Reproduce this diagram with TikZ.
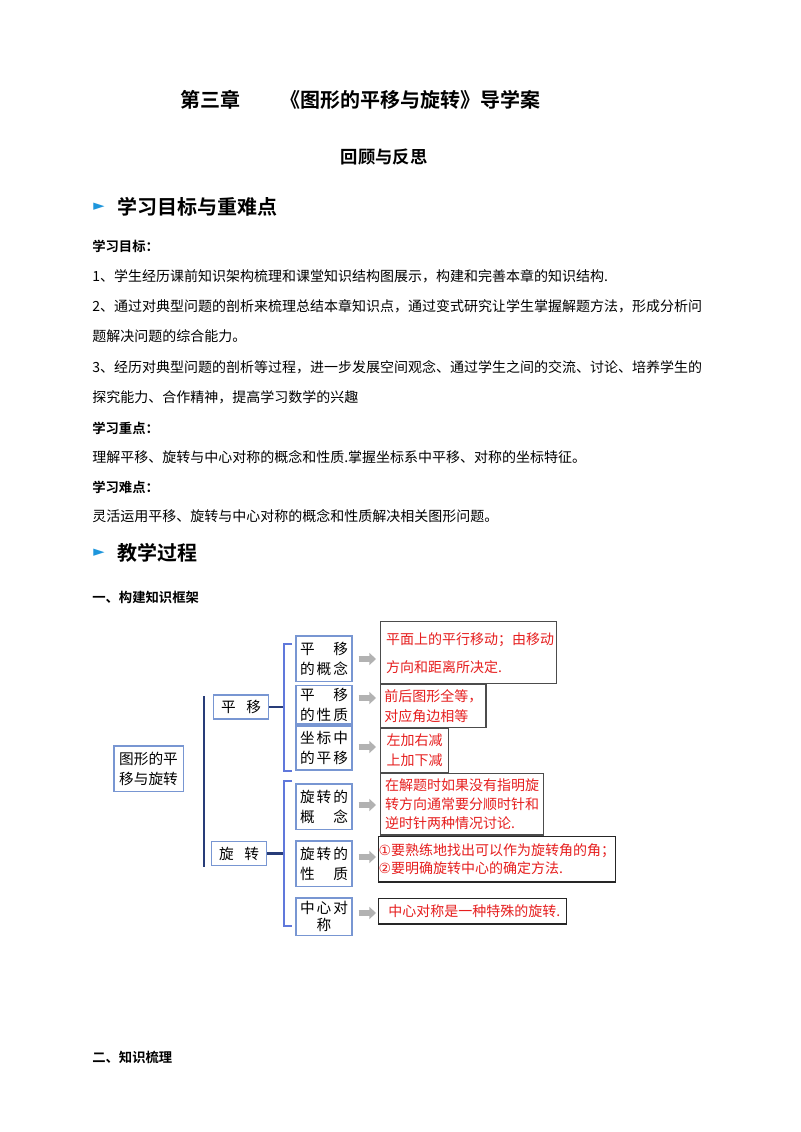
\documentclass[tikz,border=0pt]{standalone}
\usepackage{fontspec}
\setmainfont{Noto Sans CJK SC}
\newfontfamily\cjkb{Noto Sans CJK SC Bold}
\newfontfamily\djv{DejaVu Sans}
\usetikzlibrary{arrows.meta}
\definecolor{bblue}{RGB}{40,60,120}
\definecolor{boxblue}{RGB}{120,150,210}
\definecolor{tri}{RGB}{30,150,220}
\definecolor{rtext}{RGB}{230,30,30}
\tikzset{
 body/.style={anchor=west,inner sep=0pt,font=\fontsize{10.5}{12}\selectfont},
 bhead/.style={anchor=west,inner sep=0pt,font=\cjkb\fontsize{10}{12}\selectfont},
 sect/.style={anchor=west,inner sep=0pt,font=\cjkb\fontsize{15}{18}\selectfont},
 bbox/.style={draw=boxblue,line width=1pt,inner sep=0pt,font=\fontsize{11}{15}\selectfont},
 rbox/.style={draw=black!70,line width=1pt,inner sep=0pt,anchor=north west,align=left,text=rtext,font=\fontsize{10.5}{15}\selectfont},
 garrow/.style={-{Triangle[length=5pt,width=9pt]},line width=4pt,draw=black!30},
 brk/.style={draw=bblue,line width=1.6pt},
 brk2/.style={draw=boxblue!80!blue,line width=2.2pt}
}
\newcommand{\spbox}[2]{\makebox[#1]{#2}}
\begin{document}
\begin{tikzpicture}[x=0.75pt,y=-0.75pt]
\useasboundingbox[fill=white] (0,0) rectangle (800,1132);
\node[inner sep=0pt,font=\cjkb\fontsize{15}{18}\selectfont] (t1) at (360,100) {第三章\hspace{2em}《图形的平移与旋转》导学案};
\node[inner sep=0pt,font=\cjkb\fontsize{13}{16}\selectfont] (t2) at (384,157) {回顾与反思};
\node[text=tri,inner sep=0pt,font=\djv\fontsize{11}{11}\selectfont] (a1) at (99,207) {\char"25BA};
\node[sect] (s1) at (117,207) {学习目标与重难点};
\node[bhead] (h1) at (92,246) {学习目标：};
\node[body] (l1) at (92,276) {1、学生经历课前知识架构梳理和课堂知识结构图展示，构建和完善本章的知识结构.};
\node[body] (l2) at (92,306) {2、通过对典型问题的剖析来梳理总结本章知识点，通过变式研究让学生掌握解题方法，形成分析问};
\node[body] (l3) at (92,336) {题解决问题的综合能力。};
\node[body] (l4) at (92,367) {3、经历对典型问题的剖析等过程，进一步发展空间观念、通过学生之间的交流、讨论、培养学生的};
\node[body] (l5) at (92,397) {探究能力、合作精神，提高学习数学的兴趣};
\node[bhead] (h2) at (92,428) {学习重点：};
\node[body] (l6) at (92,457) {理解平移、旋转与中心对称的概念和性质.掌握坐标系中平移、对称的坐标特征。};
\node[bhead] (h3) at (92,487) {学习难点：};
\node[body] (l7) at (92,516) {灵活运用平移、旋转与中心对称的概念和性质解决相关图形问题。};
\node[text=tri,inner sep=0pt,font=\djv\fontsize{11}{11}\selectfont] (a2) at (99,553) {\char"25BA};
\node[sect] (s2) at (117,553) {教学过程};
\node[bhead] (h4) at (92,597) {一、构建知识框架};
\node[bhead] (h5) at (92,1057) {二、知识梳理};

% diagram
\node[bbox,minimum width=52pt,minimum height=34pt,align=center] (root) at (148.5,768.5) {图形的平\\移与旋转};
\draw[brk] (204,696) -- (204,867);
\node[bbox,minimum width=41pt,minimum height=18pt] (py) at (241,707) {\spbox{30pt}{平\hfill 移}};
\node[bbox,minimum width=41pt,minimum height=18pt] (xz) at (239,853.5) {\spbox{30pt}{旋\hfill 转}};
\draw[brk] (py.east) -- (283,707);
\draw[brk] (xz.east) -- (283,853.5);
\draw[brk2] (292,644) -- (284,644) -- (284,771) -- (292,771);
\draw[brk2] (292,781) -- (284,781) -- (284,926) -- (292,926);
\foreach \n/\y/\h/\a/\b in {
 c1/658.5/34/{平\hfill 移}/{的\hfill 概\hfill 念},
 c2/704.5/29/{平\hfill 移}/{的\hfill 性\hfill 质},
 c3/748/33/{坐\hfill 标\hfill 中}/{的\hfill 平\hfill 移},
 c4/806.5/34/{旋\hfill 转\hfill 的}/{概\hfill 念},
 c5/863.5/34/{旋\hfill 转\hfill 的}/{性\hfill 质}}
 {\node[bbox,minimum width=42pt,minimum height=\h pt,align=left] (\n) at (324,\y) {\spbox{36pt}{\a}\\\spbox{36pt}{\b}};}
\node[bbox,minimum width=42pt,minimum height=28pt,align=center] (c6) at (324,916.5) {\spbox{36pt}{中\hfill 心\hfill 对}\\[-2pt]称};
\foreach \n/\y in {c1/659,c2/698,c3/747,c4/805,c5/857,c6/913}
 {\coordinate (g\n) at (376,\y); \draw[garrow] (\n.east |- g\n) ++(6,0) -- (g\n);}
\node[rbox,minimum width=132pt,minimum height=46.5pt] (r1) at (380,621) {\ 平面上的平行移动；由移动\\[6pt]\ 方向和距离所决定.};
\node[rbox,minimum width=79pt,minimum height=32pt] (r2) at (380,684) {前后图形全等，\\对应角边相等};
\node[rbox,minimum width=51pt,minimum height=33pt] (r3) at (380,728) {左加右减\\上加下减};
\node[rbox,minimum width=122pt,minimum height=46pt,font=\fontsize{10.5}{14}\selectfont] (r4) at (380,773) {在解题时如果没有指明旋\\转方向通常要分顺时针和\\逆时针两种情况讨论.};
\node[rbox,draw=black!85,minimum width=176pt,minimum height=34pt,font=\fontsize{10.5}{14}\selectfont] (r5) at (378,836) {{\djv\char"2460}要熟练地找出可以作为旋转角的角；\\{\djv\char"2461}要明确旋转中心的确定方法.};
\node[rbox,draw=black!85,minimum width=141pt,minimum height=19pt] (r6) at (378,898) {\ 中心对称是一种特殊的旋转.};
\end{tikzpicture}
\end{document}
